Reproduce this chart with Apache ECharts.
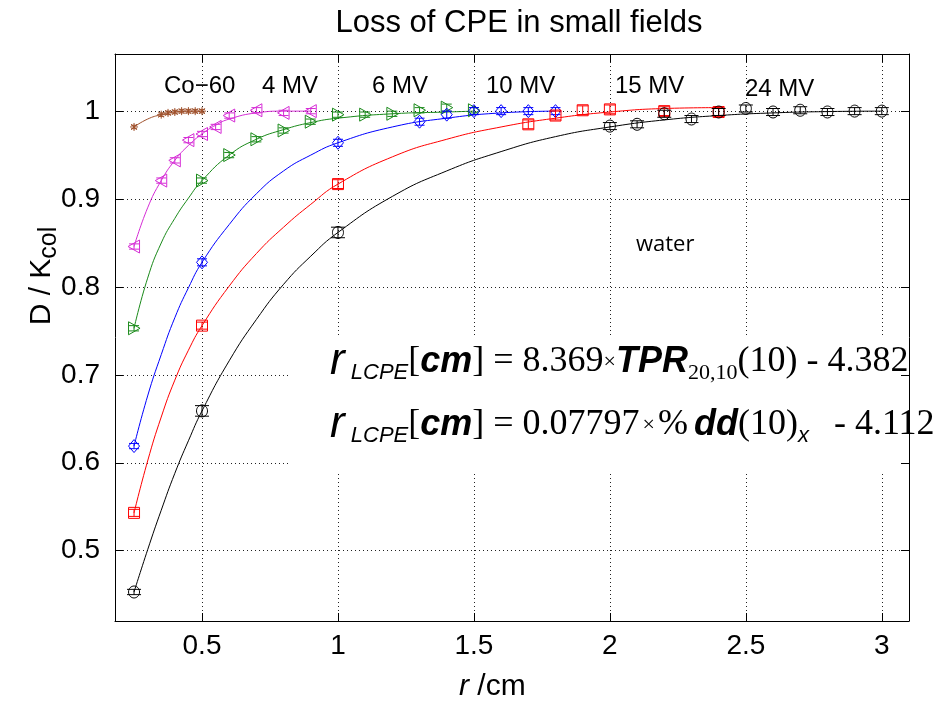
<!DOCTYPE html>
<html><head><meta charset="utf-8">
<script src="https://cdn.jsdelivr.net/npm/echarts@6/dist/echarts.min.js"></script>
<style>html,body{margin:0;padding:0;background:#fff}#c{width:949px;height:702px}</style>
</head><body><div id="c"></div>
<script>
// ---- measured points (r in cm, D/Kcol) ----
const co60X = [0.25, 0.35, 0.375, 0.4, 0.425, 0.45, 0.475, 0.5];
const co60Y = [0.982, 0.996, 0.998, 0.999, 1.0, 1.0, 1.0, 1.0];
const co60Err = [0.002, 0.002, 0.002, 0.002, 0.002, 0.002, 0.002, 0.002];

const mv4X = [0.25, 0.35, 0.4, 0.45, 0.5, 0.55, 0.6, 0.7, 0.8, 0.9];
const mv4Y = [0.846, 0.921, 0.944, 0.967, 0.974, 0.982, 0.995, 1.001, 0.998, 1.0];
const mv4Err = [0.003, 0.003, 0.003, 0.003, 0.003, 0.003, 0.003, 0.003, 0.003, 0.003];

const mv6X = [0.25, 0.5, 0.6, 0.7, 0.8, 0.9, 1.0, 1.1, 1.2, 1.3, 1.4, 1.5];
const mv6Y = [0.753, 0.921, 0.950, 0.968, 0.978, 0.988, 0.996, 0.996, 0.997, 1.001, 1.004, 1.001];
const mv6Err = [0.003, 0.003, 0.003, 0.003, 0.003, 0.003, 0.003, 0.003, 0.003, 0.003, 0.004, 0.003];

const mv10X = [0.25, 0.5, 1.0, 1.3, 1.4, 1.5, 1.6, 1.7, 1.8];
const mv10Y = [0.619, 0.828, 0.964, 0.988, 0.996, 1.0, 1.0, 1.0, 1.0];
const mv10Err = [0.003, 0.004, 0.004, 0.004, 0.004, 0.004, 0.004, 0.004, 0.004];

const mv15X = [0.25, 0.5, 1.0, 1.7, 1.8, 1.9, 2.0, 2.2, 2.4];
const mv15Y = [0.543, 0.756, 0.917, 0.985, 0.995, 1.001, 1.002, 1.0, 0.999];
const mv15Err = [0.004, 0.004, 0.005, 0.005, 0.005, 0.005, 0.005, 0.005, 0.005];

const mv24X = [0.25, 0.5, 1.0, 2.0, 2.1, 2.2, 2.3, 2.4, 2.5, 2.6, 2.7, 2.8, 2.9, 3.0];
const mv24Y = [0.453, 0.659, 0.862, 0.983, 0.985, 0.997, 0.991, 0.999, 1.003, 0.999, 1.001, 0.999, 1.0, 1.0];
const mv24Err = [0.003, 0.006, 0.006, 0.004, 0.004, 0.004, 0.004, 0.004, 0.004, 0.004, 0.004, 0.004, 0.004, 0.004];

// ---- fitted curves ----
const co60FitX = [0.25, 0.3, 0.35, 0.4, 0.45, 0.5];
const co60FitY = [0.982, 0.991, 0.996, 0.999, 1.0, 1.0];
const mv4FitX = [0.25, 0.3, 0.35, 0.4, 0.45, 0.5, 0.55, 0.6, 0.7, 0.8, 0.9];
const mv4FitY = [0.846, 0.890, 0.921, 0.944, 0.961, 0.974, 0.984, 0.991, 0.998, 1.0, 1.0];
const mv6FitX = [0.25, 0.3, 0.35, 0.4, 0.45, 0.5, 0.6, 0.7, 0.8, 0.9, 1.0, 1.2, 1.4, 1.5];
const mv6FitY = [0.753, 0.810, 0.850, 0.878, 0.901, 0.921, 0.950, 0.968, 0.979, 0.987, 0.992, 0.997, 0.999, 1.0];
const mv10FitX = [0.25, 0.3, 0.35, 0.4, 0.45, 0.5, 0.6, 0.7, 0.8, 0.9, 1.0, 1.2, 1.4, 1.6, 1.8];
const mv10FitY = [0.619, 0.676, 0.723, 0.765, 0.799, 0.828, 0.871, 0.906, 0.932, 0.950, 0.964, 0.982, 0.992, 0.998, 1.0];
const mv15FitX = [0.25, 0.3, 0.35, 0.4, 0.45, 0.5, 0.6, 0.7, 0.8, 0.9, 1.0, 1.2, 1.4, 1.6, 1.8, 2.0, 2.2, 2.4];
const mv15FitY = [0.543, 0.602, 0.652, 0.694, 0.728, 0.756, 0.801, 0.838, 0.868, 0.894, 0.917, 0.948, 0.968, 0.982, 0.992, 0.999, 1.003, 1.004];
const mv24FitX = [0.25, 0.3, 0.35, 0.4, 0.45, 0.5, 0.6, 0.7, 0.8, 0.9, 1.0, 1.2, 1.4, 1.6, 1.8, 2.0, 2.2, 2.4, 2.6, 2.8, 3.0];
const mv24FitY = [0.453, 0.501, 0.546, 0.588, 0.625, 0.659, 0.716, 0.763, 0.803, 0.835, 0.862, 0.903, 0.932, 0.954, 0.971, 0.982, 0.990, 0.995, 0.998, 0.9995, 1.0];

const seriesNames = ['Co\u221260', '4 MV', '6 MV', '10 MV', '15 MV', '24 MV'];
const titleText = 'Loss of CPE in small fields';

const FONT = '"Liberation Sans", Arial, Helvetica, sans-serif';
const SERIF = '"Liberation Serif", "Times New Roman", serif';

function pairs(xs, ys) { return xs.map((x, i) => [x, ys[i]]); }

function markerShape(kind, cx, cy, color) {
  const st = { fill: 'none', stroke: color, lineWidth: 1 };
  const s = 5.5;
  switch (kind) {
    case 'circle': return [{ type: 'ellipse', shape: { cx, cy, rx: 5.5, ry: 6 }, style: st }];
    case 'square': return [{ type: 'rect', shape: { x: cx - 5.5, y: cy - 5.5, width: 11, height: 11 }, style: st }];
    case 'diamond': return [{ type: 'polygon', shape: { points: [[cx, cy - 6.5], [cx + 5.5, cy], [cx, cy + 6.5], [cx - 5.5, cy]] }, style: st }];
    case 'left': return [{ type: 'polygon', shape: { points: [[cx - s - 0.5, cy], [cx + s, cy - s - 1], [cx + s, cy + s + 1]] }, style: st }];
    case 'right': return [{ type: 'polygon', shape: { points: [[cx + s + 0.5, cy], [cx - s, cy - s - 1], [cx - s, cy + s + 1]] }, style: st }];
    case 'star': {
      const r = 4, d = 2.9, out = [];
      [[r, 0], [0, r], [d, d], [d, -d]].forEach(([a, b]) => out.push({ type: 'line', shape: { x1: cx - a, y1: cy - b, x2: cx + a, y2: cy + b }, style: { stroke: color, lineWidth: 1 } }));
      return out;
    }
  }
  return [];
}

function markerSeries(name, xs, ys, errs, color, kind, capW) {
  return {
    type: 'custom', name, z: 4, clip: false,
    data: xs.map((x, i) => [x, ys[i], errs[i]]),
    renderItem(params, api) {
      const x = api.value(0), y = api.value(1), e = api.value(2);
      const c = api.coord([x, y]);
      const t = api.coord([x, y + e]);
      const b = api.coord([x, y - e]);
      const ls = { stroke: color, lineWidth: 1 };
      const ch = [
        { type: 'line', shape: { x1: c[0], y1: t[1], x2: c[0], y2: b[1] }, style: ls },
        { type: 'line', shape: { x1: c[0] - capW / 2, y1: t[1], x2: c[0] + capW / 2, y2: t[1] }, style: ls },
        { type: 'line', shape: { x1: c[0] - capW / 2, y1: b[1], x2: c[0] + capW / 2, y2: b[1] }, style: ls }
      ].concat(markerShape(kind, c[0], c[1], color));
      return { type: 'group', children: ch };
    }
  };
}

function fitSeries(name, xs, ys, color) {
  return {
    type: 'line', name: name + ' fit', data: pairs(xs, ys), smooth: 0.5,
    showSymbol: false, z: 3, lineStyle: { color, width: 1 }, silent: true
  };
}

const colors = ['#a0522d', '#d62cd6', '#1a8a1a', '#0000ff', '#ff0000', '#000000'];

const chart = echarts.init(document.getElementById('c'), null, { renderer: 'canvas' });

const gridLine = { show: true, lineStyle: { color: '#222', width: 1, type: [1, 3] } };

chart.setOption({
  animation: false,
  backgroundColor: '#fff',
  title: { text: titleText, left: 514, top: 3, textAlign: 'center',
    textStyle: { fontFamily: FONT, fontSize: 31, fontWeight: 'normal', color: '#000' } },
  grid: { left: 115, top: 54, width: 794, height: 567, show: false },
  xAxis: [
    { type: 'value', min: 0.18, max: 3.1, position: 'bottom', z: 1,
      axisLine: { show: true, onZero: false, lineStyle: { color: '#000', width: 1 } },
      axisTick: { show: true, inside: true, length: 8, lineStyle: { color: '#000' } },
      axisLabel: { fontFamily: FONT, fontSize: 28, color: '#000', margin: 11, showMinLabel: false, showMaxLabel: false },
      splitLine: gridLine },
    { type: 'value', min: 0.18, max: 3.1, position: 'top', z: 10,
      axisLine: { show: true, onZero: false, lineStyle: { color: '#000', width: 1 } },
      axisTick: { show: true, inside: true, length: 8, lineStyle: { color: '#000' } },
      axisLabel: { show: false }, splitLine: { show: false } }
  ],
  yAxis: [
    { type: 'value', min: 0.42, max: 1.065, position: 'left', z: 1,
      axisLine: { show: true, onZero: false, lineStyle: { color: '#000', width: 1 } },
      axisTick: { show: true, inside: true, length: 8, lineStyle: { color: '#000' } },
      axisLabel: { fontFamily: FONT, fontSize: 28, color: '#000', margin: 15, showMinLabel: false, showMaxLabel: false },
      splitLine: gridLine },
    { type: 'value', min: 0.42, max: 1.065, position: 'right', z: 10,
      axisLine: { show: true, onZero: false, lineStyle: { color: '#000', width: 1 } },
      axisTick: { show: true, inside: true, length: 8, lineStyle: { color: '#000' } },
      axisLabel: { show: false }, splitLine: { show: false } }
  ],
  series: [
    fitSeries(seriesNames[0], co60FitX, co60FitY, colors[0]),
    fitSeries(seriesNames[1], mv4FitX, mv4FitY, colors[1]),
    fitSeries(seriesNames[2], mv6FitX, mv6FitY, colors[2]),
    fitSeries(seriesNames[3], mv10FitX, mv10FitY, colors[3]),
    fitSeries(seriesNames[4], mv15FitX, mv15FitY, colors[4]),
    fitSeries(seriesNames[5], mv24FitX, mv24FitY, colors[5]),
    markerSeries(seriesNames[0], co60X, co60Y, co60Err, colors[0], 'star', 6),
    markerSeries(seriesNames[1], mv4X, mv4Y, mv4Err, colors[1], 'left', 10),
    markerSeries(seriesNames[2], mv6X, mv6Y, mv6Err, colors[2], 'right', 10),
    markerSeries(seriesNames[3], mv10X, mv10Y, mv10Err, colors[3], 'diamond', 10),
    markerSeries(seriesNames[4], mv15X, mv15Y, mv15Err, colors[4], 'square', 11),
    markerSeries(seriesNames[5], mv24X, mv24Y, mv24Err, colors[5], 'circle', 14)
  ],
  graphic: [
    // series labels
    { type: 'text', left: 164, top: 74, style: { text: seriesNames[0], font: '24px ' + FONT, fill: '#000' } },
    { type: 'text', left: 262, top: 74, style: { text: seriesNames[1], font: '24px ' + FONT, fill: '#000' } },
    { type: 'text', left: 372, top: 74, style: { text: seriesNames[2], font: '24px ' + FONT, fill: '#000' } },
    { type: 'text', left: 486, top: 74, style: { text: seriesNames[3], font: '24px ' + FONT, fill: '#000' } },
    { type: 'text', left: 615, top: 74, style: { text: seriesNames[4], font: '24px ' + FONT, fill: '#000' } },
    { type: 'text', left: 745, top: 77, style: { text: seriesNames[5], font: '24px ' + FONT, fill: '#000' } },
    { type: 'text', left: 636, top: 234, style: { text: 'water', font: '22px "Open Sans", "Noto Sans", sans-serif', fill: '#000' } },
    // white box behind equations
    { type: 'rect', z: 5, shape: { x: 290, y: 337, width: 659, height: 136 }, style: { fill: '#fff' } },
    // equations
    { type: 'text', z: 6, x: 330, y: 362, style: {
        text: '{r|r}{s| LCPE}{b|[}{c|cm}{b|]}{n| = 8.369}{x|×}{c|TPR}{ss|20,10}{n|(10) - 4.382}',
        verticalAlign: 'middle',
        rich: {
          r: { font: 'italic 44px ' + FONT, fill: '#000' },
          s: { font: 'italic 22px ' + FONT, fill: '#000', padding: [22, 0, 0, 0] },
          b: { font: '36px ' + SERIF, fill: '#000' },
          c: { font: 'italic bold 36px ' + FONT, fill: '#000' },
          n: { font: '36px ' + SERIF, fill: '#000' },
          x: { font: '22px ' + SERIF, fill: '#000' },
          ss: { font: '22px ' + SERIF, fill: '#000', padding: [22, 0, 0, 0] }
        } } },
    { type: 'text', z: 6, x: 330, y: 425, style: {
        text: '{r|r}{s| LCPE}{b|[}{c|cm}{b|]}{n| = 0.07797}{x|×}{p|%}{c|dd}{n|(10)}{s|x}{m| - 4.112}',
        verticalAlign: 'middle',
        rich: {
          r: { font: 'italic 44px ' + FONT, fill: '#000' },
          s: { font: 'italic 22px ' + FONT, fill: '#000', padding: [22, 0, 0, 0] },
          b: { font: '36px ' + SERIF, fill: '#000' },
          c: { font: 'italic bold 36px ' + FONT, fill: '#000' },
          n: { font: '36px ' + SERIF, fill: '#000' },
          p: { font: '36px ' + SERIF, fill: '#000', padding: [0, 6, 0, 0] },
          m: { font: '36px ' + SERIF, fill: '#000', padding: [0, 0, 0, 16] },
          x: { font: '22px ' + SERIF, fill: '#000', padding: [0, 3, 0, 3] }
        } } },
    // axis labels
    { type: 'text', x: 42, y: 276, rotation: Math.PI / 2, style: {
        text: '{a|D / K}{b|col}', align: 'center', verticalAlign: 'middle',
        rich: { a: { font: '30px ' + FONT, fill: '#000' }, b: { font: '25px ' + FONT, fill: '#000', padding: [14, 0, 0, 0] } } } },
    { type: 'text', x: 459, y: 687, style: {
        text: '{i|r}{a| /cm}', align: 'left', verticalAlign: 'middle',
        rich: { i: { font: 'italic 30px ' + FONT, fill: '#000' }, a: { font: '30px ' + FONT, fill: '#000' } } } }
  ]
});
</script>
</body></html>
